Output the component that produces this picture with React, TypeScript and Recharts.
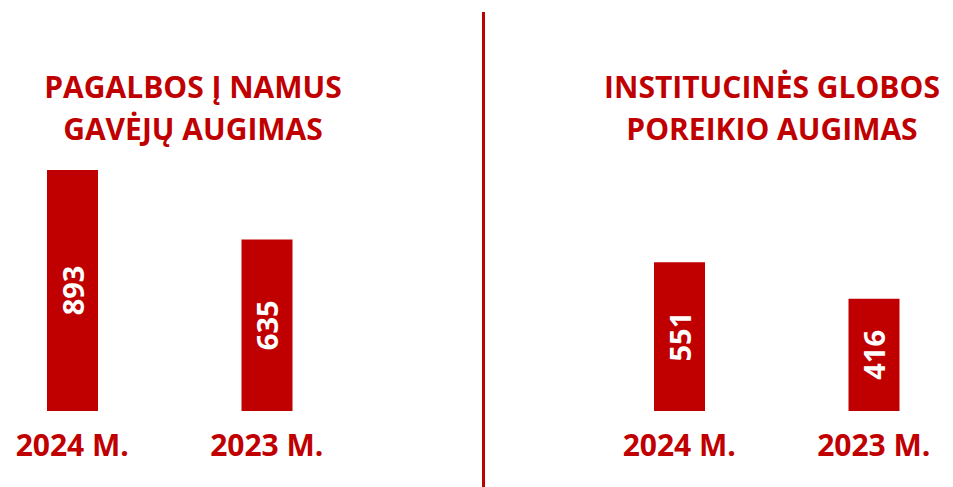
import { BarChart, Bar, XAxis, YAxis, LabelList } from "recharts";

const RED = "#C00000";
const FONT = "'Open Sans', 'Noto Sans', sans-serif";

const years = ["2024 M.", "2023 M."];
const homeCareValues = [893, 635];
const institutionalValues = [551, 416];
const homeCareTitle = ["PAGALBOS Į NAMUS", "GAVĖJŲ AUGIMAS"];
const institutionalTitle = ["INSTITUCINĖS GLOBOS", "POREIKIO AUGIMAS"];

function VerticalValue(props: any) {
  const box = props.viewBox ?? props;
  const cx = box.x + box.width / 2;
  const cy = box.y + box.height / 2;
  return (
    <text
      x={cx}
      y={cy}
      transform={`rotate(-90 ${cx} ${cy})`}
      textAnchor="middle"
      dominantBaseline="central"
      fill="#fff"
      fontSize={29}
      fontWeight={700}
      fontFamily={FONT}
    >
      {props.value}
    </text>
  );
}

function Panel({ values, left }: { values: number[]; left: number }) {
  const data = years.map((year, i) => ({ year, value: values[i] }));
  return (
    <div style={{ position: "absolute", left, top: 0 }}>
      <BarChart
        width={389}
        height={487}
        data={data}
        margin={{ top: 141, right: 0, left: 0, bottom: 0 }}
      >
        <XAxis
          dataKey="year"
          height={76}
          axisLine={false}
          tickLine={false}
          tickMargin={18}
          interval={0}
          tick={{ fill: RED, fontSize: 30, fontWeight: 700, fontFamily: FONT }}
        />
        <YAxis hide domain={[0, 1000]} />
        <Bar dataKey="value" fill={RED} barSize={51} isAnimationActive={false}>
          <LabelList dataKey="value" content={VerticalValue} />
        </Bar>
      </BarChart>
    </div>
  );
}

function Title({ lines, cx }: { lines: string[]; cx: number }) {
  return (
    <>
      {lines.map((line, i) => (
        <text
          key={line}
          x={cx}
          y={98 + i * 42}
          textAnchor="middle"
          fill={RED}
          fontSize={30}
          fontWeight={700}
          fontFamily={FONT}
        >
          {line}
        </text>
      ))}
    </>
  );
}

export default function App() {
  return (
    <div
      style={{
        position: "absolute",
        left: 0,
        top: 0,
        width: 953,
        height: 487,
        overflow: "hidden",
        background: "#fff",
      }}
    >
      <Panel values={homeCareValues} left={-25} />
      <Panel values={institutionalValues} left={582} />
      <svg
        width={953}
        height={487}
        style={{ position: "absolute", left: 0, top: 0, pointerEvents: "none" }}
      >
        <Title lines={homeCareTitle} cx={193} />
        <Title lines={institutionalTitle} cx={772} />
        <line x1={483.5} y1={12} x2={483.5} y2={487} stroke={RED} strokeWidth={3} />
      </svg>
    </div>
  );
}
